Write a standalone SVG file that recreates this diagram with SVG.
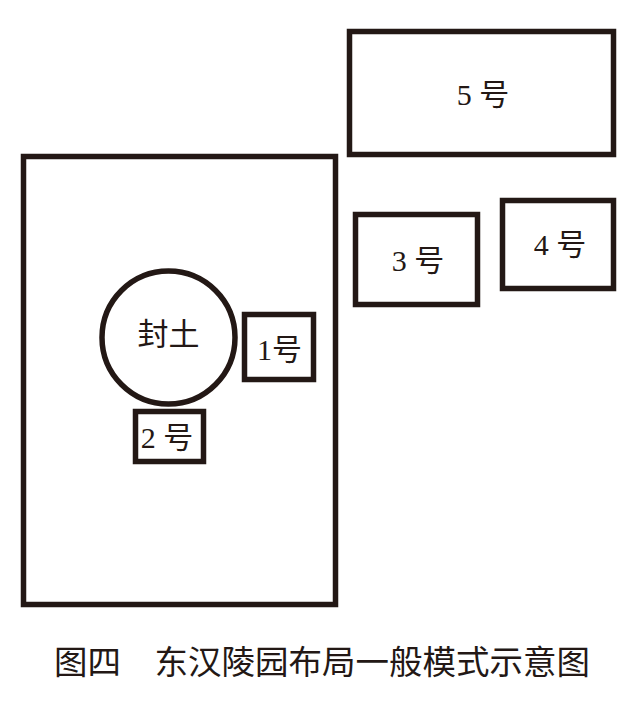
<svg xmlns="http://www.w3.org/2000/svg" width="640" height="703" viewBox="0 0 640 703">
<style>
.box{fill:none;stroke:#231815;stroke-width:5.5}
.lbl{font-family:"Liberation Serif","Noto Sans CJK SC",serif;font-size:30px;fill:#231815;text-anchor:middle}
.cap{font-family:"Noto Sans CJK SC",sans-serif;font-size:33.5px;fill:#231815}
</style>
<rect width="640" height="703" fill="#ffffff"/>
<g id="precinct"><rect class="box" x="23.5" y="156.5" width="312" height="448"/></g>
<g id="mound"><circle class="box" cx="168.5" cy="337.5" r="66.5"/><text class="lbl" x="168.5" y="345" style="font-family:'Noto Sans CJK SC',sans-serif;font-size:31px">封土</text></g>
<g id="n1"><rect class="box" x="244.5" y="314.5" width="69" height="65"/><text class="lbl" x="279.5" y="360">1号</text></g>
<g id="n2"><rect class="box" x="135.5" y="411.5" width="68" height="50"/><text class="lbl" x="167" y="448">2 号</text></g>
<g id="n3"><rect class="box" x="355.5" y="214.5" width="122" height="90"/><text class="lbl" x="418" y="271">3 号</text></g>
<g id="n4"><rect class="box" x="502.5" y="200.5" width="111" height="88"/><text class="lbl" x="560" y="255">4 号</text></g>
<g id="n5"><rect class="box" x="349.5" y="31.5" width="264" height="123"/><text class="lbl" x="483" y="105">5 号</text></g>
<g id="connectors"></g>
<text class="cap" x="54" y="674">图四　东汉陵园布局一般模式示意图</text>
</svg>
